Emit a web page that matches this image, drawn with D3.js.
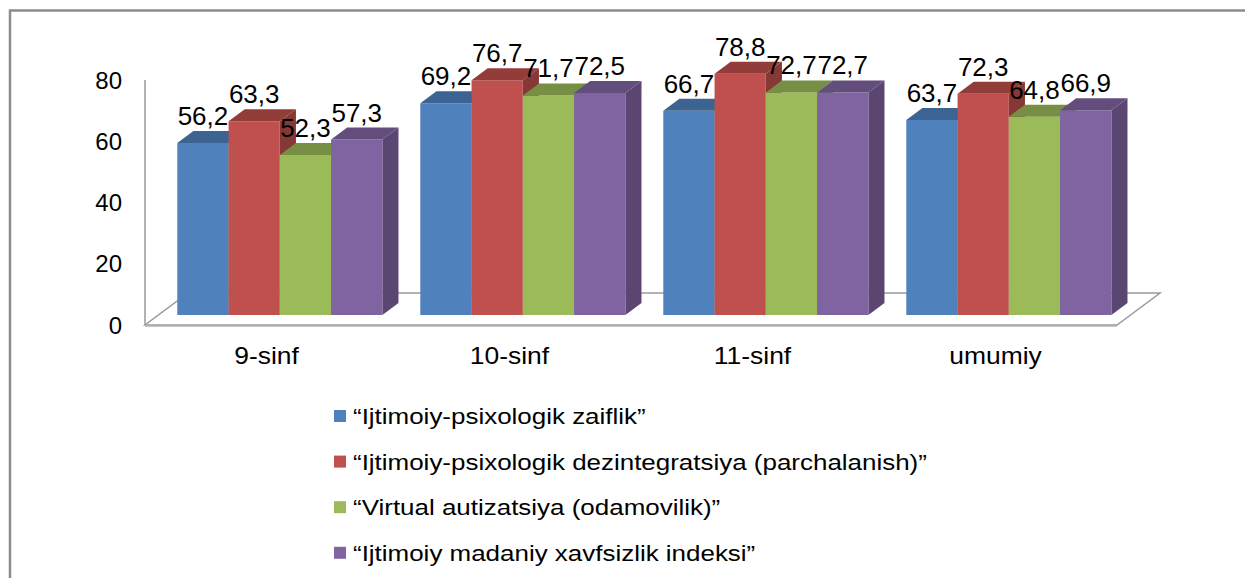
<!DOCTYPE html>
<html>
<head>
<meta charset="utf-8">
<script src="https://cdn.jsdelivr.net/npm/d3@7"></script>
<style>
  body { margin: 0; background: #fff; }
  text { font-family: "Liberation Sans", Arial, sans-serif; fill: #000; }
</style>
</head>
<body>
<div id="chart"></div>
<script>
// data
const categories = ["9-sinf", "10-sinf", "11-sinf", "umumiy"];
const seriesNames = [
  "\u201cIjtimoiy-psixologik zaiflik\u201d",
  "\u201cIjtimoiy-psixologik dezintegratsiya (parchalanish)\u201d",
  "\u201cVirtual autizatsiya (odamovilik)\u201d",
  "\u201cIjtimoiy madaniy xavfsizlik indeksi\u201d"
];
const zaiflik = [56.2, 69.2, 66.7, 63.7];
const dezintegratsiya = [63.3, 76.7, 78.8, 72.3];
const autizatsiya = [52.3, 71.7, 72.7, 64.8];
const indeks = [57.3, 72.5, 72.7, 66.9];
const yTicks = [0, 20, 40, 60, 80];
const colors = ["#4F81BD", "#C0504D", "#9BBB59", "#8064A2"];

const series = [zaiflik, dezintegratsiya, autizatsiya, indeks];

let width = 1245, height = 578;

let svg = d3.select("#chart").append("svg")
  .attr("width", width)
  .attr("height", height);

// outer frame (only top and left are inside the picture)
svg.append("path")
  .attr("d", `M10,${height} L10,10.5 L${width},10.5`)
  .attr("fill", "none")
  .attr("stroke", "#8c8c8c")
  .attr("stroke-width", 2.5);

// 3d layout: front plane and an oblique depth direction
let frontY = 325;
let floorLeft = 145, floorRight = 1117;
let depthX = 43, depthY = 32;       // whole floor depth
let barFront = 0.31, barBack = 0.685; // bar depth as share of floor

let x = d3.scaleBand()
  .domain(categories)
  .range([floorLeft, floorRight]);

let xs = d3.scaleBand()
  .domain(d3.range(series.length))
  .range([0, x.bandwidth()])
  .paddingOuter(0.37);

let y = d3.scaleLinear()
  .domain([0, 80])
  .range([frontY, frontY - 245]);

// project point at value v, plane x px, depth share d
let P = (px, v, d) => [px + d * depthX, y(v) - d * depthY];

// floor
let floor = [P(floorLeft, 0, 0), P(floorRight, 0, 0), P(floorRight, 0, 1), P(floorLeft, 0, 1)];
svg.append("path")
  .attr("d", "M" + floor.join("L") + "Z")
  .attr("fill", "none")
  .attr("stroke", "#9a9a9a")
  .attr("stroke-width", 1.5);
svg.append("line")
  .attr("x1", floorLeft).attr("x2", floorRight)
  .attr("y1", frontY + 0.5).attr("y2", frontY + 0.5)
  .attr("stroke", "#b0b0b0")
  .attr("stroke-width", 2.5);

// value axis line
svg.append("line")
  .attr("x1", floorLeft).attr("x2", floorLeft)
  .attr("y1", y(80)).attr("y2", y(0))
  .attr("stroke", "#9a9a9a")
  .attr("stroke-width", 1.5);

// tick labels
svg.append("g")
  .selectAll("text")
  .data(yTicks)
  .enter()
  .append("text")
  .attr("x", 122)
  .attr("y", d => y(d))
  .attr("dy", "0.36em")
  .attr("text-anchor", "end")
  .attr("font-size", 24)
  .text(d => d);

// category labels, a bit wide in the picture
svg.append("g")
  .selectAll("text")
  .data(categories)
  .enter()
  .append("text")
  .attr("transform", d => `translate(${x(d) + x.bandwidth() / 2},364) scale(1.15,1)`)
  .attr("text-anchor", "middle")
  .attr("font-size", 23)
  .text(d => d);

// bars, left to right so each front face hides the previous side
let bars = [];
categories.forEach((c, ci) => {
  series.forEach((s, si) => {
    bars.push({ cat: c, si: si, v: s[ci] });
  });
});

let fmt = v => d3.format(".1f")(v).replace(".", ",");

let barG = svg.append("g");
bars.forEach(b => {
  let x0 = x(b.cat) + xs(b.si), x1 = x0 + xs.bandwidth();
  let col = d3.color(colors[b.si]);
  let front = [P(x0, 0, barFront), P(x1, 0, barFront), P(x1, b.v, barFront), P(x0, b.v, barFront)];
  let top = [P(x0, b.v, barFront), P(x1, b.v, barFront), P(x1, b.v, barBack), P(x0, b.v, barBack)];
  let side = [P(x1, 0, barFront), P(x1, 0, barBack), P(x1, b.v, barBack), P(x1, b.v, barFront)];
  barG.append("path").attr("d", "M" + side.join("L") + "Z")
    .attr("fill", col.darker(1.0));
  barG.append("path").attr("d", "M" + front.join("L") + "Z")
    .attr("fill", col);
  barG.append("path").attr("d", "M" + top.join("L") + "Z")
    .attr("fill", col.darker(0.75));
});

// value labels on top of everything
svg.append("g")
  .selectAll("text")
  .data(bars)
  .enter()
  .append("text")
  .attr("x", b => P(x(b.cat) + xs(b.si) + xs.bandwidth() / 2, b.v, barFront)[0])
  .attr("y", b => P(0, b.v, barFront)[1] - 18)
  .attr("text-anchor", "middle")
  .attr("font-size", 26)
  .text(b => fmt(b.v));

// legend
let legend = svg.append("g")
  .selectAll("g")
  .data(seriesNames)
  .enter()
  .append("g")
  .attr("transform", (d, i) => `translate(334,${416 + i * 45.6})`);

legend.append("rect")
  .attr("x", 0).attr("y", -6)
  .attr("width", 12).attr("height", 12)
  .attr("fill", (d, i) => colors[i]);

legend.append("text")
  .attr("transform", "translate(19,8) scale(1.18,1)")
  .attr("font-size", 22)
  .text(d => d);
</script>
</body>
</html>
